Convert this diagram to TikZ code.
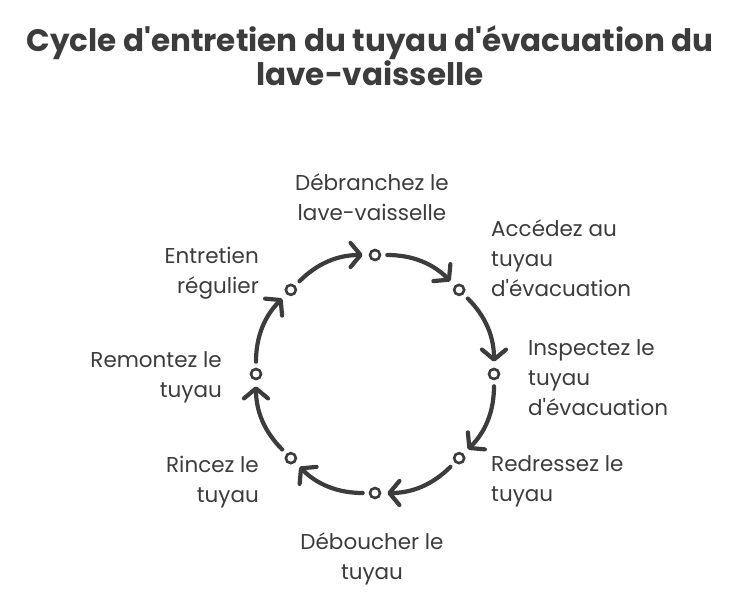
\documentclass[tikz,border=0pt]{standalone}
\usepackage{fontspec}
\setmainfont{Poppins}[Ligatures=TeXOff]
\usetikzlibrary{arrows.meta}
\definecolor{ink}{HTML}{3C3C3C}
\tikzset{
  etape/.style={circle,draw=ink,line width=2.6pt,minimum size=10pt,inner sep=0pt},
  fleche/.style={draw=ink,line width=4.2pt,line cap=round,
    -{Straight Barb[length=10pt,width=24pt,round]},shorten <=6pt,shorten >=6pt},
  texte/.style={text=ink,inner sep=0pt,font=\fontsize{21.5}{30}\selectfont},
  titre/.style={text=ink,inner sep=0pt,align=center,font=\bfseries\fontsize{31}{32}\selectfont}
}
\begin{document}
\begin{tikzpicture}[x=1pt,y=1pt]
\useasboundingbox (-375,-226) rectangle (375,374);
%titre
\node[titre] (titre) at (-5,318) {Cycle d'entretien du tuyau d'évacuation du\\lave-vaisselle};
%points du cycle
\node[etape] (p1) at (90:119) {};
\node[etape] (p2) at (45:119) {};
\node[etape] (p3) at (0:119) {};
\node[etape] (p4) at (-45:119) {};
\node[etape] (p5) at (-90:119) {};
\node[etape] (p6) at (-135:119) {};
\node[etape] (p7) at (180:119) {};
\node[etape] (p8) at (135:119) {};
%fleches
\foreach \a/\b in {p1/p2,p2/p3,p3/p4,p4/p5,p5/p6,p6/p7,p7/p8,p8/p1}
  \draw[fleche] (\a) to[bend left=22.5] (\b);
%Text
\node[texte,align=center] (t1) at (-3,176.5) {Débranchez le\\lave-vaisselle};
\node[texte,align=left,anchor=west] (t2) at (116,116) {Accédez au\\tuyau\\d'évacuation};
\node[texte,align=left,anchor=west] (t3) at (153,-4) {Inspectez le\\tuyau\\d'évacuation};
\node[texte,align=left,anchor=west] (t4) at (116,-107.5) {Redressez le\\tuyau};
\node[texte,align=center] (t5) at (-3,-185) {Déboucher le\\tuyau};
\node[texte,align=right,anchor=east] (t6) at (-116,-108) {Rincez le\\tuyau};
\node[texte,align=right,anchor=east] (t7) at (-153,-3.5) {Remontez le\\tuyau};
\node[texte,align=right,anchor=east] (t8) at (-116,100.5) {Entretien\\régulier};
\end{tikzpicture}
\end{document}
